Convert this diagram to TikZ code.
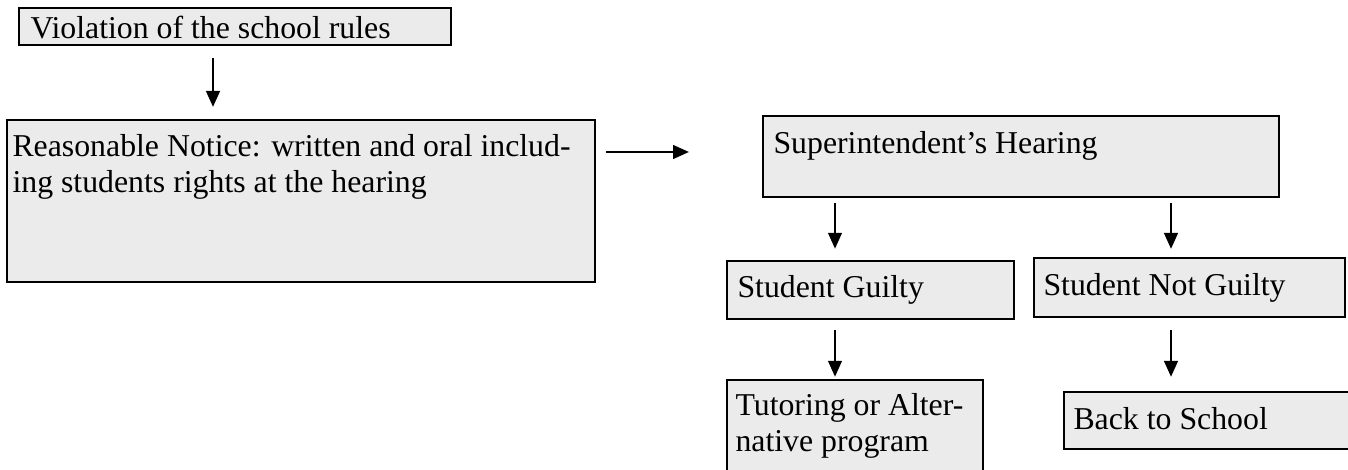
\documentclass[tikz,border=0pt]{standalone}
\usepackage{fontspec}
\setmainfont{Liberation Serif}
\usetikzlibrary{arrows.meta,fit}
\definecolor{boxfill}{RGB}{235,235,235}
\begin{document}
\begin{tikzpicture}[x=0.3774pt,y=-0.3774pt,
  box/.style={draw=black,fill=boxfill,line width=0.9pt,inner sep=0pt},
  txt/.style={anchor=base west,inner sep=0pt,font=\fontsize{12pt}{13.8pt}\selectfont},
  arr/.style={line width=0.75pt,-{Triangle[length=6pt,width=5.2pt]}}]
\useasboundingbox (0,0) rectangle (1348,470);
\clip (0,0) rectangle (1348,470);
% boxes
\node[box,fit={(19,8) (451,45)}] (b1) {};
\node[box,fit={(7,120) (595,282)}] (b2) {};
\node[box,fit={(763,116) (1279,197)}] (b3) {};
\node[box,fit={(727,261) (1014,319)}] (b4) {};
\node[box,fit={(1034,258) (1345,317)}] (b5) {};
\node[box,fit={(727,380) (983,490)}] (b6) {};
\node[box,fit={(1064,392) (1370,449)}] (b7) {};
% texts
\node[txt] (t1) at (30,39) {Violation of the school rules};
\node[txt] (t2a) at (12,157) {Reasonable Notice: written and oral includ-};
\node[txt] (t2b) at (12,193) {ing students rights at the hearing};
\node[txt] (t3) at (773,154) {Superintendent’s Hearing};
\node[txt] (t4) at (737,298) {Student Guilty};
\node[txt] (t5) at (1043,296) {Student Not Guilty};
\node[txt] (t6a) at (735,416) {Tutoring or Alter-};
\node[txt] (t6b) at (735,452) {native program};
\node[txt] (t7) at (1073,430) {Back to School};
% connector start points
\coordinate (a1) at (213,58);
\coordinate (a2) at (606,152);
\coordinate (a3) at (835,203);
\coordinate (a4) at (1171,203);
\coordinate (a5) at (835,330);
\coordinate (a6) at (1171,330);
% connectors
\draw[arr,shorten >=4.5pt] (a1) -- (a1 |- b2.north);
\draw[arr,shorten >=27.5pt] (a2) -- (a2 -| b3.west);
\draw[arr,shorten >=4.2pt] (a3) -- (a3 |- b4.north);
\draw[arr,shorten >=3pt] (a4) -- (a4 |- b5.north);
\draw[arr,shorten >=0.8pt] (a5) -- (a5 |- b6.north);
\draw[arr,shorten >=5.3pt] (a6) -- (a6 |- b7.north);
\end{tikzpicture}
\end{document}
